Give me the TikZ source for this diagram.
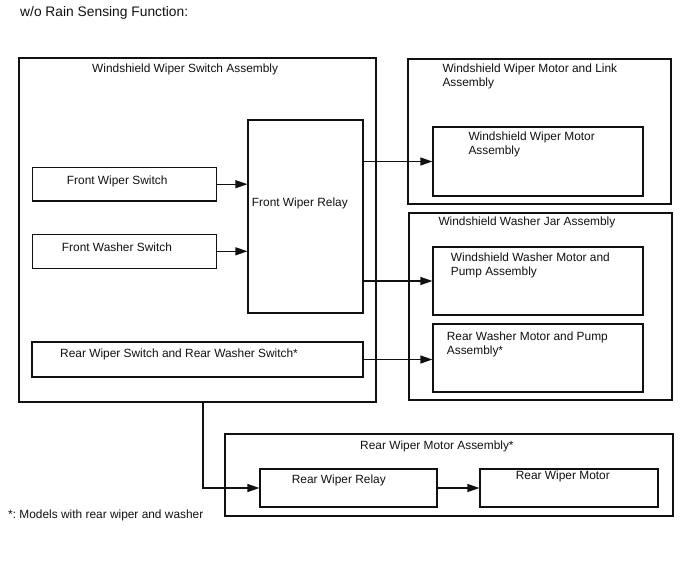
\documentclass[tikz,border=0pt]{standalone}
\usepackage{fontspec}
\setmainfont{Liberation Sans}
\usetikzlibrary{arrows.meta, positioning, calc}
\definecolor{ink}{HTML}{111111}
\tikzset{
  font=\fontsize{11.9}{14.2}\selectfont\frenchspacing,
  >={Triangle[length=12pt, width=8pt]},
  %
  grp/.style={draw=ink, line width=1.2pt, inner sep=0pt},
  blk/.style={draw=ink, line width=1.2pt, inner sep=0pt, fill=white},
  %
  lbl/.style={text=ink, inner sep=0pt, anchor=north west, align=left},
  flow/.style={draw=ink, line width=1.2pt, ->},
}

\begin{document}
\begin{tikzpicture}[x=1pt, y=-1pt]
\useasboundingbox (0,0) rectangle (688,560);

\node[lbl, font=\fontsize{13.8}{16}\selectfont] (title) at (20,6)
  {w/o Rain Sensing Function:};

% =========================================================================
% LEFT: switch assembly
% =========================================================================
\node[grp, minimum width=357pt, minimum height=344pt] (wsa) at (197.5,230) {};
\node[lbl] (wsatxt) at (92,63.5) {Windshield Wiper Switch Assembly};

\node[blk, minimum width=184.4pt, minimum height=33.7pt] (fws) at (124.5,184.2) {};
\node[lbl] (fwstxt) at (66.7,175.7) {Front Wiper Switch};

\node[blk, minimum width=184.4pt, minimum height=34pt] (fwas) at (124.5,251.3) {};
\node[lbl] (fwastxt) at (61.7,242.3) {Front Washer Switch};

\node[blk, minimum width=115pt, minimum height=193pt] (fwr) at (305.5,216.5) {};
\node[lbl] (fwrtxt) at (251.7,197.3) {Front Wiper Relay};

\node[blk, minimum width=331pt, minimum height=35pt] (rws) at (197.5,359.5) {};
\node[lbl] (rwstxt) at (60,348.3) {Rear Wiper Switch and Rear Washer Switch*};

% =========================================================================
% RIGHT: motor and washer jar assemblies
% =========================================================================
\node[grp, minimum width=263pt, minimum height=145pt] (wwmla) at (539.5,131.5) {};
\node[lbl] (wwmlatxt) at (442.3,63.3) {Windshield Wiper Motor and Link\\Assembly};

\node[blk, minimum width=210pt, minimum height=69pt] (wwm) at (538,161.5) {};
\node[lbl] (wwmtxt) at (468.3,131.7) {Windshield Wiper Motor\\Assembly};

\node[grp, minimum width=263pt, minimum height=187pt] (wwja) at (540.5,306.5) {};
\node[lbl] (wwjatxt) at (438.3,216.7) {Windshield Washer Jar Assembly};

\node[blk, minimum width=210pt, minimum height=68pt] (wwmp) at (538,281) {};
\node[lbl] (wwmptxt) at (450.7,252.7) {Windshield Washer Motor and\\Pump Assembly};

\node[blk, minimum width=210pt, minimum height=68pt] (rwmp) at (538,358) {};
\node[lbl] (rwmptxt) at (446.7,331.7) {Rear Washer Motor and Pump\\Assembly*};

% =========================================================================
% BOTTOM: rear wiper motor assembly
% =========================================================================
\node[grp, minimum width=448pt, minimum height=82pt] (rwma) at (449,475) {};
\node[lbl] (rwmatxt) at (360,441) {Rear Wiper Motor Assembly*};

\node[blk, minimum width=177pt, minimum height=38pt] (rwr) at (348.5,488) {};
\node[lbl] (rwrtxt) at (291.7,474.3) {Rear Wiper Relay};

\node[blk, minimum width=178pt, minimum height=38pt] (rwm) at (569,488) {};
\node[lbl] (rwmtxt) at (515.7,471) {Rear Wiper Motor};

\node[lbl] (note) at (8,510) {*: Models with rear wiper and washer};

% connections
\draw[flow] (fws.east) -- (fwr.west |- fws.east);
\draw[flow] (fwas.east) -- (fwr.west |- fwas.east);
\draw[flow] (fwr.east |- wwm.west) -- (wwm.west);
\draw[flow] (fwr.east |- wwmp.west) -- (wwmp.west);
\draw[flow] (rws.east) -- (rwmp.west |- rws.east);
\draw[flow] ([xshift=5.5pt]wsa.south) |- (rwr.west);
\draw[flow] (rwr.east) -- (rwm.west);

\end{tikzpicture}
\end{document}
